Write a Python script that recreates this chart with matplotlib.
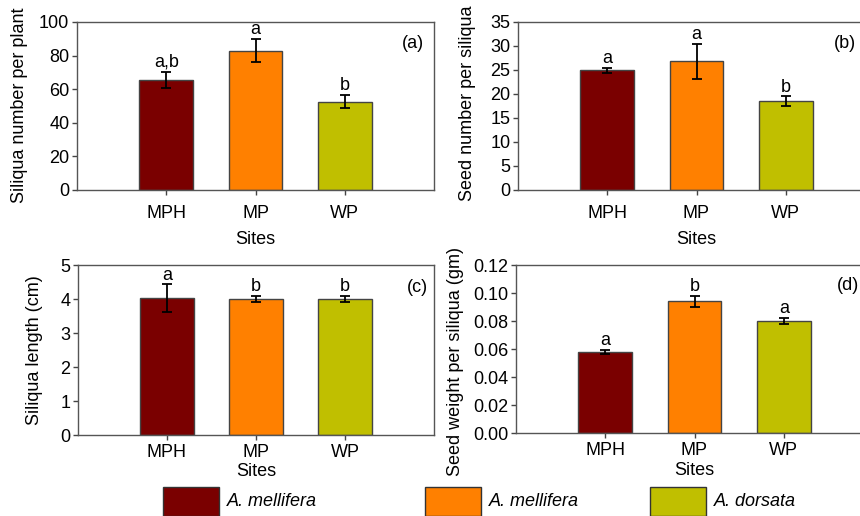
import numpy as np
import matplotlib
matplotlib.use("Agg")
from matplotlib import pyplot as plt
from matplotlib.patches import Rectangle

sites = ["MPH", "MP", "WP"]
colors = ["#7a0000", "#ff8000", "#c0bf00"]
species = ["A. mellifera", "A. mellifera", "A. dorsata"]

siliqua_num = [65.5, 83.0, 52.6]
siliqua_num_err = [5.0, 7.0, 4.0]
siliqua_num_let = ["a,b", "a", "b"]

seed_num = [24.9, 26.8, 18.5]
seed_num_err = [0.6, 3.7, 1.0]
seed_num_let = ["a", "a", "b"]

siliqua_len = [4.03, 4.0, 4.0]
siliqua_len_err = [0.4, 0.08, 0.08]
siliqua_len_let = ["a", "b", "b"]

seed_wt = [0.0578, 0.0940, 0.0800]
seed_wt_err = [0.0015, 0.0038, 0.0022]
seed_wt_let = ["a", "b", "a"]

plt.rcParams["font.family"] = ["Liberation Sans", "DejaVu Sans"]
plt.rcParams["font.size"] = 13

W, H = 860, 516
fig = plt.figure(figsize=(W / 100, H / 100), dpi=100)

edge = "#444444"


def px_axes(left, top, right, bottom):
    ax = fig.add_axes([left / W, 1 - bottom / H, (right - left) / W, (bottom - top) / H])
    ax.box_px = (left, top, right, bottom)
    return ax


def panel(ax, vals, errs, lets, ymax, yticks, ylabel, tag, fmt,
          ylab_px, xlab_py, tick_py, tag_px, tag_py):
    left, top, right, bottom = ax.box_px
    wx = right - left
    hy = bottom - top
    x = np.arange(1, 4)
    ax.bar(x, vals, width=0.6, color=colors, edgecolor=edge, linewidth=1.0, zorder=2)
    ax.errorbar(x, vals, yerr=errs, fmt="none", ecolor="black", elinewidth=1.3,
                capsize=3.5, capthick=1.3, zorder=3)
    for xi, v, e, l in zip(x, vals, errs, lets):
        ax.text(xi, v + e + ymax * 0.005, l, ha="center", va="bottom", fontsize=13)
    ax.set_xlim(0, 4)
    ax.set_ylim(0, ymax)
    ax.set_xticks(x)
    ax.set_xticklabels(sites, fontsize=13)
    ax.set_yticks(yticks)
    ax.set_yticklabels([fmt.format(t) for t in yticks], fontsize=13)
    ax.tick_params(direction="out", length=3.5, width=1, color=edge, pad=2)
    ax.tick_params(axis="x", pad=tick_py)
    for s in ax.spines.values():
        s.set_color("#555555")
        s.set_linewidth(1.0)
    ax.set_ylabel(ylabel, fontsize=13, va="center")
    ax.yaxis.set_label_coords((ylab_px[0] - left) / wx, (bottom - ylab_px[1]) / hy)
    ax.set_xlabel("Sites", fontsize=13, va="center")
    ax.xaxis.set_label_coords(0.5, (bottom - xlab_py) / hy)
    ax.text((tag_px - left) / wx, (bottom - tag_py) / hy, tag, transform=ax.transAxes,
            ha="center", va="center", fontsize=13)


ax_a = px_axes(77, 22, 434, 190)
panel(ax_a, siliqua_num, siliqua_num_err, siliqua_num_let, 100, [0, 20, 40, 60, 80, 100],
      "Siliqua number per plant", "(a)", "{:.0f}", (20, 105), 240, 7, 413, 44)

ax_b = px_axes(518, 22, 875, 190)
panel(ax_b, seed_num, seed_num_err, seed_num_let, 35, [0, 5, 10, 15, 20, 25, 30, 35],
      "Seed number per siliqua", "(b)", "{:.0f}", (467, 103), 240, 7, 845, 44)

ax_c = px_axes(78, 265, 434, 435)
panel(ax_c, siliqua_len, siliqua_len_err, siliqua_len_let, 5, [0, 1, 2, 3, 4, 5],
      "Siliqua length (cm)", "(c)", "{:.0f}", (35, 350), 472, 3, 417, 287)

ax_d = px_axes(516, 265, 873, 433)
panel(ax_d, seed_wt, seed_wt_err, seed_wt_let, 0.12, [0, 0.02, 0.04, 0.06, 0.08, 0.10, 0.12],
      "Seed weight per siliqua (gm)", "(d)", "{:.2f}", (455, 362), 470, 3, 848, 286)

# legend strip at the bottom
box_x = [163, 425, 650]
for bx, c, name in zip(box_x, colors, species):
    fig.add_artist(Rectangle((bx / W, 0), 56 / W, (516 - 487) / H, transform=fig.transFigure,
                             facecolor=c, edgecolor="#333333", linewidth=1.0))
    fig.text((bx + 64) / W, 1 - 502 / H, name, style="italic", fontsize=13, va="center")

fig.savefig("out.png", dpi=100)
